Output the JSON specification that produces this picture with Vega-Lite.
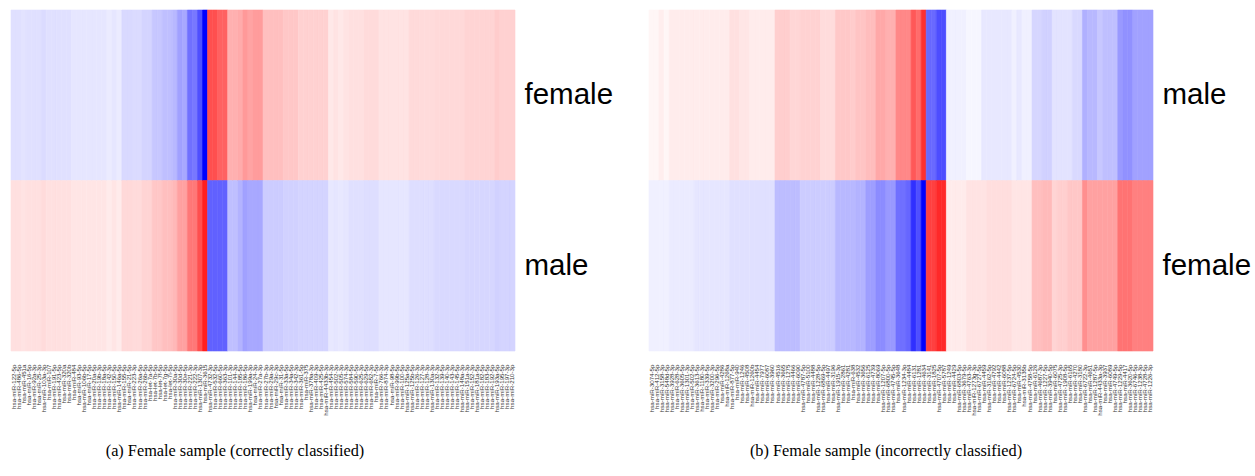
{
  "$schema": "https://vega.github.io/schema/vega-lite/v6.json",
  "padding": {"left": 10, "top": 9, "right": 0, "bottom": 0},
  "background": "white",
  "config": {"view": {"stroke": null}, "concat": {"spacing": 35}},
  "datasets": {
    "a": [
      {"i":0,"mir":"hsa-miR-122-5p","row":"female","v":-0.12},{"i":0,"mir":"hsa-miR-122-5p","row":"male","v":0.12},
      {"i":1,"mir":"hsa-miR-486-5p","row":"female","v":-0.12},{"i":1,"mir":"hsa-miR-486-5p","row":"male","v":0.12},
      {"i":2,"mir":"hsa-miR-451a","row":"female","v":-0.11},{"i":2,"mir":"hsa-miR-451a","row":"male","v":0.11},
      {"i":3,"mir":"hsa-miR-16-5p","row":"female","v":-0.12},{"i":3,"mir":"hsa-miR-16-5p","row":"male","v":0.12},
      {"i":4,"mir":"hsa-miR-92a-3p","row":"female","v":-0.12},{"i":4,"mir":"hsa-miR-92a-3p","row":"male","v":0.12},
      {"i":5,"mir":"hsa-miR-25-3p","row":"female","v":-0.12},{"i":5,"mir":"hsa-miR-25-3p","row":"male","v":0.12},
      {"i":6,"mir":"hsa-miR-103a-3p","row":"female","v":-0.14},{"i":6,"mir":"hsa-miR-103a-3p","row":"male","v":0.14},
      {"i":7,"mir":"hsa-miR-107","row":"female","v":-0.12},{"i":7,"mir":"hsa-miR-107","row":"male","v":0.12},
      {"i":8,"mir":"hsa-miR-191-5p","row":"female","v":-0.12},{"i":8,"mir":"hsa-miR-191-5p","row":"male","v":0.12},
      {"i":9,"mir":"hsa-miR-423-5p","row":"female","v":-0.12},{"i":9,"mir":"hsa-miR-423-5p","row":"male","v":0.12},
      {"i":10,"mir":"hsa-miR-320a","row":"female","v":-0.12},{"i":10,"mir":"hsa-miR-320a","row":"male","v":0.12},
      {"i":11,"mir":"hsa-miR-320b","row":"female","v":-0.12},{"i":11,"mir":"hsa-miR-320b","row":"male","v":0.12},
      {"i":12,"mir":"hsa-miR-484","row":"female","v":-0.10},{"i":12,"mir":"hsa-miR-484","row":"male","v":0.10},
      {"i":13,"mir":"hsa-miR-93-5p","row":"female","v":-0.10},{"i":13,"mir":"hsa-miR-93-5p","row":"male","v":0.10},
      {"i":14,"mir":"hsa-miR-106b-5p","row":"female","v":-0.10},{"i":14,"mir":"hsa-miR-106b-5p","row":"male","v":0.10},
      {"i":15,"mir":"hsa-miR-17-5p","row":"female","v":-0.10},{"i":15,"mir":"hsa-miR-17-5p","row":"male","v":0.10},
      {"i":16,"mir":"hsa-miR-20a-5p","row":"female","v":-0.10},{"i":16,"mir":"hsa-miR-20a-5p","row":"male","v":0.10},
      {"i":17,"mir":"hsa-miR-19b-3p","row":"female","v":-0.10},{"i":17,"mir":"hsa-miR-19b-3p","row":"male","v":0.10},
      {"i":18,"mir":"hsa-miR-18a-5p","row":"female","v":-0.10},{"i":18,"mir":"hsa-miR-18a-5p","row":"male","v":0.10},
      {"i":19,"mir":"hsa-miR-142-3p","row":"female","v":-0.08},{"i":19,"mir":"hsa-miR-142-3p","row":"male","v":0.08},
      {"i":20,"mir":"hsa-miR-150-5p","row":"female","v":-0.10},{"i":20,"mir":"hsa-miR-150-5p","row":"male","v":0.10},
      {"i":21,"mir":"hsa-miR-146a-5p","row":"female","v":-0.08},{"i":21,"mir":"hsa-miR-146a-5p","row":"male","v":0.08},
      {"i":22,"mir":"hsa-miR-155-5p","row":"female","v":-0.15},{"i":22,"mir":"hsa-miR-155-5p","row":"male","v":0.15},
      {"i":23,"mir":"hsa-miR-21-5p","row":"female","v":-0.15},{"i":23,"mir":"hsa-miR-21-5p","row":"male","v":0.15},
      {"i":24,"mir":"hsa-miR-223-3p","row":"female","v":-0.14},{"i":24,"mir":"hsa-miR-223-3p","row":"male","v":0.14},
      {"i":25,"mir":"hsa-miR-26a-5p","row":"female","v":-0.14},{"i":25,"mir":"hsa-miR-26a-5p","row":"male","v":0.14},
      {"i":26,"mir":"hsa-miR-26b-5p","row":"female","v":-0.17},{"i":26,"mir":"hsa-miR-26b-5p","row":"male","v":0.17},
      {"i":27,"mir":"hsa-let-7a-5p","row":"female","v":-0.17},{"i":27,"mir":"hsa-let-7a-5p","row":"male","v":0.17},
      {"i":28,"mir":"hsa-let-7b-5p","row":"female","v":-0.22},{"i":28,"mir":"hsa-let-7b-5p","row":"male","v":0.22},
      {"i":29,"mir":"hsa-let-7f-5p","row":"female","v":-0.22},{"i":29,"mir":"hsa-let-7f-5p","row":"male","v":0.22},
      {"i":30,"mir":"hsa-let-7g-5p","row":"female","v":-0.25},{"i":30,"mir":"hsa-let-7g-5p","row":"male","v":0.25},
      {"i":31,"mir":"hsa-let-7i-5p","row":"female","v":-0.25},{"i":31,"mir":"hsa-let-7i-5p","row":"male","v":0.25},
      {"i":32,"mir":"hsa-miR-30a-5p","row":"female","v":-0.28},{"i":32,"mir":"hsa-miR-30a-5p","row":"male","v":0.28},
      {"i":33,"mir":"hsa-miR-30d-5p","row":"female","v":-0.37},{"i":33,"mir":"hsa-miR-30d-5p","row":"male","v":0.37},
      {"i":34,"mir":"hsa-miR-30e-5p","row":"female","v":-0.34},{"i":34,"mir":"hsa-miR-30e-5p","row":"male","v":0.37},
      {"i":35,"mir":"hsa-miR-221-3p","row":"female","v":-0.56},{"i":35,"mir":"hsa-miR-221-3p","row":"male","v":0.53},
      {"i":36,"mir":"hsa-miR-222-3p","row":"female","v":-0.53},{"i":36,"mir":"hsa-miR-222-3p","row":"male","v":0.53},
      {"i":37,"mir":"hsa-miR-1307-3p","row":"female","v":-0.69},{"i":37,"mir":"hsa-miR-1307-3p","row":"male","v":0.69},
      {"i":38,"mir":"hsa-miR-3615","row":"female","v":-1.0},{"i":38,"mir":"hsa-miR-3615","row":"male","v":0.88},
      {"i":39,"mir":"hsa-miR-4732-3p","row":"female","v":0.69},{"i":39,"mir":"hsa-miR-4732-3p","row":"male","v":-0.62},
      {"i":40,"mir":"hsa-miR-532-5p","row":"female","v":0.69},{"i":40,"mir":"hsa-miR-532-5p","row":"male","v":-0.62},
      {"i":41,"mir":"hsa-miR-660-5p","row":"female","v":0.62},{"i":41,"mir":"hsa-miR-660-5p","row":"male","v":-0.62},
      {"i":42,"mir":"hsa-miR-363-3p","row":"female","v":0.62},{"i":42,"mir":"hsa-miR-363-3p","row":"male","v":-0.62},
      {"i":43,"mir":"hsa-miR-101-3p","row":"female","v":0.31},{"i":43,"mir":"hsa-miR-101-3p","row":"male","v":-0.25},
      {"i":44,"mir":"hsa-miR-144-3p","row":"female","v":0.31},{"i":44,"mir":"hsa-miR-144-3p","row":"male","v":-0.25},
      {"i":45,"mir":"hsa-miR-185-5p","row":"female","v":0.33},{"i":45,"mir":"hsa-miR-185-5p","row":"male","v":-0.30},
      {"i":46,"mir":"hsa-miR-186-5p","row":"female","v":0.40},{"i":46,"mir":"hsa-miR-186-5p","row":"male","v":-0.37},
      {"i":47,"mir":"hsa-miR-199a-3p","row":"female","v":0.36},{"i":47,"mir":"hsa-miR-199a-3p","row":"male","v":-0.34},
      {"i":48,"mir":"hsa-miR-24-3p","row":"female","v":0.39},{"i":48,"mir":"hsa-miR-24-3p","row":"male","v":-0.34},
      {"i":49,"mir":"hsa-miR-27a-3p","row":"female","v":0.39},{"i":49,"mir":"hsa-miR-27a-3p","row":"male","v":-0.34},
      {"i":50,"mir":"hsa-miR-27b-3p","row":"female","v":0.25},{"i":50,"mir":"hsa-miR-27b-3p","row":"male","v":-0.20},
      {"i":51,"mir":"hsa-miR-29a-3p","row":"female","v":0.25},{"i":51,"mir":"hsa-miR-29a-3p","row":"male","v":-0.20},
      {"i":52,"mir":"hsa-miR-29c-3p","row":"female","v":0.25},{"i":52,"mir":"hsa-miR-29c-3p","row":"male","v":-0.20},
      {"i":53,"mir":"hsa-miR-31-5p","row":"female","v":0.25},{"i":53,"mir":"hsa-miR-31-5p","row":"male","v":-0.20},
      {"i":54,"mir":"hsa-miR-33a-5p","row":"female","v":0.22},{"i":54,"mir":"hsa-miR-33a-5p","row":"male","v":-0.18},
      {"i":55,"mir":"hsa-miR-34a-5p","row":"female","v":0.22},{"i":55,"mir":"hsa-miR-34a-5p","row":"male","v":-0.18},
      {"i":56,"mir":"hsa-miR-342-3p","row":"female","v":0.22},{"i":56,"mir":"hsa-miR-342-3p","row":"male","v":-0.18},
      {"i":57,"mir":"hsa-miR-361-5p","row":"female","v":0.18},{"i":57,"mir":"hsa-miR-361-5p","row":"male","v":-0.17},
      {"i":58,"mir":"hsa-miR-375","row":"female","v":0.18},{"i":58,"mir":"hsa-miR-375","row":"male","v":-0.17},
      {"i":59,"mir":"hsa-miR-378a-3p","row":"female","v":0.18},{"i":59,"mir":"hsa-miR-378a-3p","row":"male","v":-0.17},
      {"i":60,"mir":"hsa-miR-409-3p","row":"female","v":0.18},{"i":60,"mir":"hsa-miR-409-3p","row":"male","v":-0.17},
      {"i":61,"mir":"hsa-miR-425-5p","row":"female","v":0.18},{"i":61,"mir":"hsa-miR-425-5p","row":"male","v":-0.17},
      {"i":62,"mir":"hsa-miR-4433b-3p","row":"female","v":0.18},{"i":62,"mir":"hsa-miR-4433b-3p","row":"male","v":-0.17},
      {"i":63,"mir":"hsa-miR-454-3p","row":"female","v":0.09},{"i":63,"mir":"hsa-miR-454-3p","row":"male","v":-0.09},
      {"i":64,"mir":"hsa-miR-502-3p","row":"female","v":0.11},{"i":64,"mir":"hsa-miR-502-3p","row":"male","v":-0.10},
      {"i":65,"mir":"hsa-miR-505-3p","row":"female","v":0.09},{"i":65,"mir":"hsa-miR-505-3p","row":"male","v":-0.09},
      {"i":66,"mir":"hsa-miR-574-3p","row":"female","v":0.11},{"i":66,"mir":"hsa-miR-574-3p","row":"male","v":-0.10},
      {"i":67,"mir":"hsa-miR-584-5p","row":"female","v":0.12},{"i":67,"mir":"hsa-miR-584-5p","row":"male","v":-0.12},
      {"i":68,"mir":"hsa-miR-590-5p","row":"female","v":0.12},{"i":68,"mir":"hsa-miR-590-5p","row":"male","v":-0.12},
      {"i":69,"mir":"hsa-miR-625-3p","row":"female","v":0.12},{"i":69,"mir":"hsa-miR-625-3p","row":"male","v":-0.12},
      {"i":70,"mir":"hsa-miR-629-5p","row":"female","v":0.14},{"i":70,"mir":"hsa-miR-629-5p","row":"male","v":-0.13},
      {"i":71,"mir":"hsa-miR-652-3p","row":"female","v":0.14},{"i":71,"mir":"hsa-miR-652-3p","row":"male","v":-0.13},
      {"i":72,"mir":"hsa-miR-7-5p","row":"female","v":0.14},{"i":72,"mir":"hsa-miR-7-5p","row":"male","v":-0.13},
      {"i":73,"mir":"hsa-miR-766-3p","row":"female","v":0.11},{"i":73,"mir":"hsa-miR-766-3p","row":"male","v":-0.10},
      {"i":74,"mir":"hsa-miR-874-3p","row":"female","v":0.11},{"i":74,"mir":"hsa-miR-874-3p","row":"male","v":-0.10},
      {"i":75,"mir":"hsa-miR-98-5p","row":"female","v":0.11},{"i":75,"mir":"hsa-miR-98-5p","row":"male","v":-0.10},
      {"i":76,"mir":"hsa-miR-99b-5p","row":"female","v":0.11},{"i":76,"mir":"hsa-miR-99b-5p","row":"male","v":-0.10},
      {"i":77,"mir":"hsa-miR-100-5p","row":"female","v":0.11},{"i":77,"mir":"hsa-miR-100-5p","row":"male","v":-0.10},
      {"i":78,"mir":"hsa-miR-125a-5p","row":"female","v":0.11},{"i":78,"mir":"hsa-miR-125a-5p","row":"male","v":-0.10},
      {"i":79,"mir":"hsa-miR-125b-5p","row":"female","v":0.145},{"i":79,"mir":"hsa-miR-125b-5p","row":"male","v":-0.13},
      {"i":80,"mir":"hsa-miR-126-3p","row":"female","v":0.145},{"i":80,"mir":"hsa-miR-126-3p","row":"male","v":-0.13},
      {"i":81,"mir":"hsa-miR-127-3p","row":"female","v":0.14},{"i":81,"mir":"hsa-miR-127-3p","row":"male","v":-0.13},
      {"i":82,"mir":"hsa-miR-128-3p","row":"female","v":0.14},{"i":82,"mir":"hsa-miR-128-3p","row":"male","v":-0.13},
      {"i":83,"mir":"hsa-miR-130a-3p","row":"female","v":0.14},{"i":83,"mir":"hsa-miR-130a-3p","row":"male","v":-0.13},
      {"i":84,"mir":"hsa-miR-132-3p","row":"female","v":0.15},{"i":84,"mir":"hsa-miR-132-3p","row":"male","v":-0.15},
      {"i":85,"mir":"hsa-miR-139-5p","row":"female","v":0.15},{"i":85,"mir":"hsa-miR-139-5p","row":"male","v":-0.15},
      {"i":86,"mir":"hsa-miR-140-3p","row":"female","v":0.15},{"i":86,"mir":"hsa-miR-140-3p","row":"male","v":-0.15},
      {"i":87,"mir":"hsa-miR-143-3p","row":"female","v":0.15},{"i":87,"mir":"hsa-miR-143-3p","row":"male","v":-0.15},
      {"i":88,"mir":"hsa-miR-145-5p","row":"female","v":0.15},{"i":88,"mir":"hsa-miR-145-5p","row":"male","v":-0.15},
      {"i":89,"mir":"hsa-miR-148a-3p","row":"female","v":0.15},{"i":89,"mir":"hsa-miR-148a-3p","row":"male","v":-0.15},
      {"i":90,"mir":"hsa-miR-151a-3p","row":"female","v":0.17},{"i":90,"mir":"hsa-miR-151a-3p","row":"male","v":-0.16},
      {"i":91,"mir":"hsa-miR-152-3p","row":"female","v":0.17},{"i":91,"mir":"hsa-miR-152-3p","row":"male","v":-0.16},
      {"i":92,"mir":"hsa-miR-181a-5p","row":"female","v":0.17},{"i":92,"mir":"hsa-miR-181a-5p","row":"male","v":-0.16},
      {"i":93,"mir":"hsa-miR-182-5p","row":"female","v":0.17},{"i":93,"mir":"hsa-miR-182-5p","row":"male","v":-0.16},
      {"i":94,"mir":"hsa-miR-183-5p","row":"female","v":0.17},{"i":94,"mir":"hsa-miR-183-5p","row":"male","v":-0.16},
      {"i":95,"mir":"hsa-miR-192-5p","row":"female","v":0.17},{"i":95,"mir":"hsa-miR-192-5p","row":"male","v":-0.16},
      {"i":96,"mir":"hsa-miR-193a-5p","row":"female","v":0.20},{"i":96,"mir":"hsa-miR-193a-5p","row":"male","v":-0.18},
      {"i":97,"mir":"hsa-miR-195-5p","row":"female","v":0.18},{"i":97,"mir":"hsa-miR-195-5p","row":"male","v":-0.17},
      {"i":98,"mir":"hsa-miR-197-3p","row":"female","v":0.18},{"i":98,"mir":"hsa-miR-197-3p","row":"male","v":-0.17},
      {"i":99,"mir":"hsa-miR-210-3p","row":"female","v":0.18},{"i":99,"mir":"hsa-miR-210-3p","row":"male","v":-0.17}
    ],
    "b": [
      {"i":0,"mir":"hsa-miR-3074-5p","row":"male","v":0.035},{"i":0,"mir":"hsa-miR-3074-5p","row":"female","v":-0.06},
      {"i":1,"mir":"hsa-miR-412-5p","row":"male","v":0.035},{"i":1,"mir":"hsa-miR-412-5p","row":"female","v":-0.06},
      {"i":2,"mir":"hsa-miR-3158-3p","row":"male","v":0.067},{"i":2,"mir":"hsa-miR-3158-3p","row":"female","v":-0.06},
      {"i":3,"mir":"hsa-miR-548d-5p","row":"male","v":0.035},{"i":3,"mir":"hsa-miR-548d-5p","row":"female","v":-0.06},
      {"i":4,"mir":"hsa-miR-3928-3p","row":"male","v":0.075},{"i":4,"mir":"hsa-miR-3928-3p","row":"female","v":-0.08},
      {"i":5,"mir":"hsa-miR-628-3p","row":"male","v":0.075},{"i":5,"mir":"hsa-miR-628-3p","row":"female","v":-0.08},
      {"i":6,"mir":"hsa-miR-3605-5p","row":"male","v":0.075},{"i":6,"mir":"hsa-miR-3605-5p","row":"female","v":-0.08},
      {"i":7,"mir":"hsa-miR-1301-3p","row":"male","v":0.075},{"i":7,"mir":"hsa-miR-1301-3p","row":"female","v":-0.08},
      {"i":8,"mir":"hsa-miR-502-5p","row":"male","v":0.075},{"i":8,"mir":"hsa-miR-502-5p","row":"female","v":-0.08},
      {"i":9,"mir":"hsa-miR-3613-5p","row":"male","v":0.075},{"i":9,"mir":"hsa-miR-3613-5p","row":"female","v":-0.10},
      {"i":10,"mir":"hsa-miR-1180-3p","row":"male","v":0.075},{"i":10,"mir":"hsa-miR-1180-3p","row":"female","v":-0.10},
      {"i":11,"mir":"hsa-miR-339-5p","row":"male","v":0.075},{"i":11,"mir":"hsa-miR-339-5p","row":"female","v":-0.10},
      {"i":12,"mir":"hsa-miR-3200-3p","row":"male","v":0.075},{"i":12,"mir":"hsa-miR-3200-3p","row":"female","v":-0.10},
      {"i":13,"mir":"hsa-miR-296-5p","row":"male","v":0.075},{"i":13,"mir":"hsa-miR-296-5p","row":"female","v":-0.10},
      {"i":14,"mir":"hsa-miR-4286","row":"male","v":0.075},{"i":14,"mir":"hsa-miR-4286","row":"female","v":-0.10},
      {"i":15,"mir":"hsa-miR-1268a","row":"male","v":0.075},{"i":15,"mir":"hsa-miR-1268a","row":"female","v":-0.10},
      {"i":16,"mir":"hsa-miR-877-5p","row":"male","v":0.122},{"i":16,"mir":"hsa-miR-877-5p","row":"female","v":-0.12},
      {"i":17,"mir":"hsa-miR-940","row":"male","v":0.122},{"i":17,"mir":"hsa-miR-940","row":"female","v":-0.12},
      {"i":18,"mir":"hsa-miR-1246","row":"male","v":0.098},{"i":18,"mir":"hsa-miR-1246","row":"female","v":-0.12},
      {"i":19,"mir":"hsa-miR-4508","row":"male","v":0.098},{"i":19,"mir":"hsa-miR-4508","row":"female","v":-0.12},
      {"i":20,"mir":"hsa-miR-1260b","row":"male","v":0.075},{"i":20,"mir":"hsa-miR-1260b","row":"female","v":-0.12},
      {"i":21,"mir":"hsa-miR-4454","row":"male","v":0.075},{"i":21,"mir":"hsa-miR-4454","row":"female","v":-0.12},
      {"i":22,"mir":"hsa-miR-7977","row":"male","v":0.075},{"i":22,"mir":"hsa-miR-7977","row":"female","v":-0.12},
      {"i":23,"mir":"hsa-miR-6087","row":"male","v":0.075},{"i":23,"mir":"hsa-miR-6087","row":"female","v":-0.12},
      {"i":24,"mir":"hsa-miR-3960","row":"male","v":0.075},{"i":24,"mir":"hsa-miR-3960","row":"female","v":-0.12},
      {"i":25,"mir":"hsa-miR-4516","row":"male","v":0.192},{"i":25,"mir":"hsa-miR-4516","row":"female","v":-0.26},
      {"i":26,"mir":"hsa-miR-3665","row":"male","v":0.192},{"i":26,"mir":"hsa-miR-3665","row":"female","v":-0.26},
      {"i":27,"mir":"hsa-miR-1275","row":"male","v":0.192},{"i":27,"mir":"hsa-miR-1275","row":"female","v":-0.26},
      {"i":28,"mir":"hsa-miR-4466","row":"male","v":0.16},{"i":28,"mir":"hsa-miR-4466","row":"female","v":-0.26},
      {"i":29,"mir":"hsa-miR-6090","row":"male","v":0.16},{"i":29,"mir":"hsa-miR-6090","row":"female","v":-0.26},
      {"i":30,"mir":"hsa-miR-4787-5p","row":"male","v":0.176},{"i":30,"mir":"hsa-miR-4787-5p","row":"female","v":-0.20},
      {"i":31,"mir":"hsa-miR-5100","row":"male","v":0.176},{"i":31,"mir":"hsa-miR-5100","row":"female","v":-0.20},
      {"i":32,"mir":"hsa-miR-4488","row":"male","v":0.176},{"i":32,"mir":"hsa-miR-4488","row":"female","v":-0.20},
      {"i":33,"mir":"hsa-miR-1228-5p","row":"male","v":0.176},{"i":33,"mir":"hsa-miR-1228-5p","row":"female","v":-0.20},
      {"i":34,"mir":"hsa-miR-6869-5p","row":"male","v":0.137},{"i":34,"mir":"hsa-miR-6869-5p","row":"female","v":-0.20},
      {"i":35,"mir":"hsa-miR-4497","row":"male","v":0.137},{"i":35,"mir":"hsa-miR-4497","row":"female","v":-0.20},
      {"i":36,"mir":"hsa-miR-3196","row":"male","v":0.137},{"i":36,"mir":"hsa-miR-3196","row":"female","v":-0.20},
      {"i":37,"mir":"hsa-miR-1915-3p","row":"male","v":0.216},{"i":37,"mir":"hsa-miR-1915-3p","row":"female","v":-0.28},
      {"i":38,"mir":"hsa-miR-2861","row":"male","v":0.216},{"i":38,"mir":"hsa-miR-2861","row":"female","v":-0.28},
      {"i":39,"mir":"hsa-miR-4281","row":"male","v":0.216},{"i":39,"mir":"hsa-miR-4281","row":"female","v":-0.28},
      {"i":40,"mir":"hsa-miR-638","row":"male","v":0.20},{"i":40,"mir":"hsa-miR-638","row":"female","v":-0.28},
      {"i":41,"mir":"hsa-miR-4532","row":"male","v":0.23},{"i":41,"mir":"hsa-miR-4532","row":"female","v":-0.30},
      {"i":42,"mir":"hsa-miR-3656","row":"male","v":0.23},{"i":42,"mir":"hsa-miR-3656","row":"female","v":-0.30},
      {"i":43,"mir":"hsa-miR-6125","row":"male","v":0.26},{"i":43,"mir":"hsa-miR-6125","row":"female","v":-0.38},
      {"i":44,"mir":"hsa-miR-4739","row":"male","v":0.26},{"i":44,"mir":"hsa-miR-4739","row":"female","v":-0.38},
      {"i":45,"mir":"hsa-miR-8069","row":"male","v":0.34},{"i":45,"mir":"hsa-miR-8069","row":"female","v":-0.45},
      {"i":46,"mir":"hsa-miR-1207-5p","row":"male","v":0.34},{"i":46,"mir":"hsa-miR-1207-5p","row":"female","v":-0.45},
      {"i":47,"mir":"hsa-miR-6800-5p","row":"male","v":0.31},{"i":47,"mir":"hsa-miR-6800-5p","row":"female","v":-0.40},
      {"i":48,"mir":"hsa-miR-4745-5p","row":"male","v":0.31},{"i":48,"mir":"hsa-miR-4745-5p","row":"female","v":-0.40},
      {"i":49,"mir":"hsa-miR-3648","row":"male","v":0.467},{"i":49,"mir":"hsa-miR-3648","row":"female","v":-0.56},
      {"i":50,"mir":"hsa-miR-1234-3p","row":"male","v":0.467},{"i":50,"mir":"hsa-miR-1234-3p","row":"female","v":-0.56},
      {"i":51,"mir":"hsa-miR-4484","row":"male","v":0.467},{"i":51,"mir":"hsa-miR-4484","row":"female","v":-0.60},
      {"i":52,"mir":"hsa-miR-6131","row":"male","v":0.655},{"i":52,"mir":"hsa-miR-6131","row":"female","v":-0.81},
      {"i":53,"mir":"hsa-miR-1281","row":"male","v":0.576},{"i":53,"mir":"hsa-miR-1281","row":"female","v":-0.69},
      {"i":54,"mir":"hsa-miR-4634","row":"male","v":0.81},{"i":54,"mir":"hsa-miR-4634","row":"female","v":-1.0},
      {"i":55,"mir":"hsa-miR-3141","row":"male","v":-0.59},{"i":55,"mir":"hsa-miR-3141","row":"female","v":0.75},
      {"i":56,"mir":"hsa-miR-1825","row":"male","v":-0.59},{"i":56,"mir":"hsa-miR-1825","row":"female","v":0.75},
      {"i":57,"mir":"hsa-miR-4707-5p","row":"male","v":-0.70},{"i":57,"mir":"hsa-miR-4707-5p","row":"female","v":0.84},
      {"i":58,"mir":"hsa-miR-5787","row":"male","v":-0.70},{"i":58,"mir":"hsa-miR-5787","row":"female","v":0.84},
      {"i":59,"mir":"hsa-miR-1249","row":"male","v":-0.06},{"i":59,"mir":"hsa-miR-1249","row":"female","v":0.08},
      {"i":60,"mir":"hsa-miR-4429","row":"male","v":-0.06},{"i":60,"mir":"hsa-miR-4429","row":"female","v":0.08},
      {"i":61,"mir":"hsa-miR-6803-5p","row":"male","v":-0.06},{"i":61,"mir":"hsa-miR-6803-5p","row":"female","v":0.08},
      {"i":62,"mir":"hsa-miR-3679-5p","row":"male","v":-0.06},{"i":62,"mir":"hsa-miR-3679-5p","row":"female","v":0.08},
      {"i":63,"mir":"hsa-miR-4763-3p","row":"male","v":-0.035},{"i":63,"mir":"hsa-miR-4763-3p","row":"female","v":0.11},
      {"i":64,"mir":"hsa-miR-1273g-3p","row":"male","v":-0.035},{"i":64,"mir":"hsa-miR-1273g-3p","row":"female","v":0.11},
      {"i":65,"mir":"hsa-miR-6727-5p","row":"male","v":-0.035},{"i":65,"mir":"hsa-miR-6727-5p","row":"female","v":0.11},
      {"i":66,"mir":"hsa-miR-4459","row":"male","v":-0.09},{"i":66,"mir":"hsa-miR-4459","row":"female","v":0.11},
      {"i":67,"mir":"hsa-miR-3162-5p","row":"male","v":-0.09},{"i":67,"mir":"hsa-miR-3162-5p","row":"female","v":0.13},
      {"i":68,"mir":"hsa-miR-4792","row":"male","v":-0.09},{"i":68,"mir":"hsa-miR-4792","row":"female","v":0.13},
      {"i":69,"mir":"hsa-miR-4442","row":"male","v":-0.09},{"i":69,"mir":"hsa-miR-4442","row":"female","v":0.13},
      {"i":70,"mir":"hsa-miR-6088","row":"male","v":-0.09},{"i":70,"mir":"hsa-miR-6088","row":"female","v":0.13},
      {"i":71,"mir":"hsa-miR-1237-5p","row":"male","v":-0.09},{"i":71,"mir":"hsa-miR-1237-5p","row":"female","v":0.13},
      {"i":72,"mir":"hsa-miR-6724-5p","row":"male","v":-0.06},{"i":72,"mir":"hsa-miR-6724-5p","row":"female","v":0.10},
      {"i":73,"mir":"hsa-miR-4530","row":"male","v":-0.09},{"i":73,"mir":"hsa-miR-4530","row":"female","v":0.10},
      {"i":74,"mir":"hsa-miR-3135b","row":"male","v":-0.06},{"i":74,"mir":"hsa-miR-3135b","row":"female","v":0.10},
      {"i":75,"mir":"hsa-miR-4758-5p","row":"male","v":-0.06},{"i":75,"mir":"hsa-miR-4758-5p","row":"female","v":0.10},
      {"i":76,"mir":"hsa-miR-6126","row":"male","v":-0.16},{"i":76,"mir":"hsa-miR-6126","row":"female","v":0.25},
      {"i":77,"mir":"hsa-miR-4687-3p","row":"male","v":-0.16},{"i":77,"mir":"hsa-miR-4687-3p","row":"female","v":0.25},
      {"i":78,"mir":"hsa-miR-1227-5p","row":"male","v":-0.18},{"i":78,"mir":"hsa-miR-1227-5p","row":"female","v":0.27},
      {"i":79,"mir":"hsa-miR-3940-5p","row":"male","v":-0.18},{"i":79,"mir":"hsa-miR-3940-5p","row":"female","v":0.27},
      {"i":80,"mir":"hsa-miR-6075","row":"male","v":-0.11},{"i":80,"mir":"hsa-miR-6075","row":"female","v":0.17},
      {"i":81,"mir":"hsa-miR-4725-3p","row":"male","v":-0.11},{"i":81,"mir":"hsa-miR-4725-3p","row":"female","v":0.19},
      {"i":82,"mir":"hsa-miR-1908-5p","row":"male","v":-0.11},{"i":82,"mir":"hsa-miR-1908-5p","row":"female","v":0.19},
      {"i":83,"mir":"hsa-miR-6165","row":"male","v":-0.11},{"i":83,"mir":"hsa-miR-6165","row":"female","v":0.22},
      {"i":84,"mir":"hsa-miR-4270","row":"male","v":-0.15},{"i":84,"mir":"hsa-miR-4270","row":"female","v":0.22},
      {"i":85,"mir":"hsa-miR-3180","row":"male","v":-0.15},{"i":85,"mir":"hsa-miR-3180","row":"female","v":0.22},
      {"i":86,"mir":"hsa-miR-6722-3p","row":"male","v":-0.31},{"i":86,"mir":"hsa-miR-6722-3p","row":"female","v":0.44},
      {"i":87,"mir":"hsa-miR-4651","row":"male","v":-0.28},{"i":87,"mir":"hsa-miR-4651","row":"female","v":0.37},
      {"i":88,"mir":"hsa-miR-1287-5p","row":"male","v":-0.28},{"i":88,"mir":"hsa-miR-1287-5p","row":"female","v":0.37},
      {"i":89,"mir":"hsa-miR-4433a-3p","row":"male","v":-0.22},{"i":89,"mir":"hsa-miR-4433a-3p","row":"female","v":0.37},
      {"i":90,"mir":"hsa-miR-3937","row":"male","v":-0.25},{"i":90,"mir":"hsa-miR-3937","row":"female","v":0.37},
      {"i":91,"mir":"hsa-miR-6089","row":"male","v":-0.25},{"i":91,"mir":"hsa-miR-6089","row":"female","v":0.37},
      {"i":92,"mir":"hsa-miR-4749-5p","row":"male","v":-0.25},{"i":92,"mir":"hsa-miR-4749-5p","row":"female","v":0.37},
      {"i":93,"mir":"hsa-miR-1229-5p","row":"male","v":-0.40},{"i":93,"mir":"hsa-miR-1229-5p","row":"female","v":0.55},
      {"i":94,"mir":"hsa-miR-4417","row":"male","v":-0.43},{"i":94,"mir":"hsa-miR-4417","row":"female","v":0.55},
      {"i":95,"mir":"hsa-miR-3620-5p","row":"male","v":-0.43},{"i":95,"mir":"hsa-miR-3620-5p","row":"female","v":0.55},
      {"i":96,"mir":"hsa-miR-6746-5p","row":"male","v":-0.37},{"i":96,"mir":"hsa-miR-6746-5p","row":"female","v":0.50},
      {"i":97,"mir":"hsa-miR-1238-3p","row":"male","v":-0.37},{"i":97,"mir":"hsa-miR-1238-3p","row":"female","v":0.50},
      {"i":98,"mir":"hsa-miR-4728-5p","row":"male","v":-0.37},{"i":98,"mir":"hsa-miR-4728-5p","row":"female","v":0.50},
      {"i":99,"mir":"hsa-miR-1226-3p","row":"male","v":-0.37},{"i":99,"mir":"hsa-miR-1226-3p","row":"female","v":0.50}
    ]
  },
  "hconcat": [
    {
      "data": {"name": "a"},
      "width": 504,
      "height": 341,
      "title": {"text": "(a) Female sample (correctly classified)", "orient": "bottom", "anchor": "middle", "frame": "group", "dx": -28, "offset": 28, "font": "Liberation Serif", "fontSize": 16.3, "fontWeight": "normal", "color": "black"},
      "mark": {"type": "rect", "strokeWidth": 0.6},
      "encoding": {
        "x": {"field": "mir", "type": "nominal", "sort": {"field": "i", "op": "min"},
              "axis": {"title": null, "labelAngle": 270, "labelFontSize": 6.2, "labelFont": "Liberation Sans", "labelColor": "#333", "labelPadding": 13, "ticks": false, "domain": false, "labelOverlap": false}},
        "y": {"field": "row", "type": "nominal", "sort": ["female", "male"],
              "axis": {"orient": "right", "title": null, "labelFontSize": 29.5, "labelFont": "Liberation Sans", "labelColor": "black", "labelPadding": 9, "ticks": false, "domain": false}},
        "color": {"field": "v", "type": "quantitative", "scale": {"domain": [-1, 0, 1], "range": ["#0000ff", "#ffffff", "#ff0000"], "interpolate": "rgb"}, "legend": null},
        "stroke": {"field": "v", "type": "quantitative", "scale": {"domain": [-1, 0, 1], "range": ["#0000ff", "#ffffff", "#ff0000"], "interpolate": "rgb"}, "legend": null}
      }
    },
    {
      "data": {"name": "b"},
      "width": 504,
      "height": 341,
      "title": {"text": "(b) Female sample (incorrectly classified)", "orient": "bottom", "anchor": "middle", "frame": "group", "dx": -15, "offset": 28, "font": "Liberation Serif", "fontSize": 16.3, "fontWeight": "normal", "color": "black"},
      "mark": {"type": "rect", "strokeWidth": 0.6},
      "encoding": {
        "x": {"field": "mir", "type": "nominal", "sort": {"field": "i", "op": "min"},
              "axis": {"title": null, "labelAngle": 270, "labelFontSize": 6.2, "labelFont": "Liberation Sans", "labelColor": "#333", "labelPadding": 13, "ticks": false, "domain": false, "labelOverlap": false}},
        "y": {"field": "row", "type": "nominal", "sort": ["male", "female"],
              "axis": {"orient": "right", "title": null, "labelFontSize": 29.5, "labelFont": "Liberation Sans", "labelColor": "black", "labelPadding": 9, "ticks": false, "domain": false}},
        "color": {"field": "v", "type": "quantitative", "scale": {"domain": [-1, 0, 1], "range": ["#0000ff", "#ffffff", "#ff0000"], "interpolate": "rgb"}, "legend": null},
        "stroke": {"field": "v", "type": "quantitative", "scale": {"domain": [-1, 0, 1], "range": ["#0000ff", "#ffffff", "#ff0000"], "interpolate": "rgb"}, "legend": null}
      }
    }
  ],
  "resolve": {"scale": {"color": "shared", "stroke": "shared"}}
}
